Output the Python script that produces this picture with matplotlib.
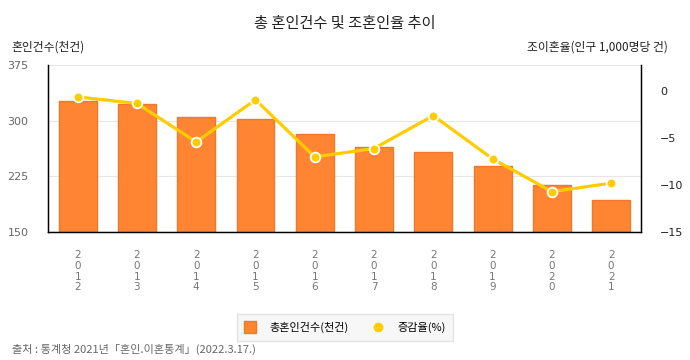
import matplotlib.pyplot as plt
from matplotlib.lines import Line2D

plt.rcParams['font.family'] = ['Noto Sans CJK KR', 'DejaVu Sans']

years = ['2012', '2013', '2014', '2015', '2016', '2017', '2018', '2019', '2020', '2021']
marriages = [327.1, 322.8, 305.5, 302.8, 281.6, 264.5, 257.6, 239.2, 213.5, 192.5]
change_rate = [-0.6, -1.3, -5.4, -0.9, -7.0, -6.1, -2.6, -7.2, -10.7, -9.8]

bar_color = '#FF8533'
bar_edge = '#F0782A'
line_color = '#FFCC00'

fig = plt.figure(figsize=(6.9, 3.6), dpi=100)
ax = fig.add_axes([0.0696, 0.3556, 0.859, 0.4638])
x = list(range(len(years)))

ax.bar(x, marriages, width=0.64, color=bar_color, edgecolor=bar_edge, linewidth=1,
       zorder=2, label='총혼인건수(천건)')
ax.set_ylim(150, 375)
ax.set_yticks([150, 225, 300, 375])
ax.set_xlim(-0.5, len(years) - 0.5)
ax.set_xticks(x)
ax.set_xticklabels(['\n'.join(y) for y in years], fontsize=7.5, color='#777777',
                   linespacing=1.1, family='DejaVu Sans')
ax.grid(axis='y', color='#e6e6e6', linewidth=0.8, zorder=0)
ax.tick_params(axis='y', length=0, pad=14, labelsize=8, labelcolor='#666666')
ax.tick_params(axis='x', length=0, pad=13)
for lab in ax.get_yticklabels():
    lab.set_family('DejaVu Sans')
ax.spines['top'].set_visible(False)
for s in ['left', 'right', 'bottom']:
    ax.spines[s].set_color('black')
    ax.spines[s].set_linewidth(1)

ax2 = ax.twinx()
ax2.plot(x, change_rate, color=line_color, linewidth=2.3, marker='o', markersize=7,
         markerfacecolor=line_color, markeredgecolor='white', markeredgewidth=1.3,
         zorder=3, label='증감율(%)')
ax2.set_ylim(-15, 2.8)
ax2.set_yticks([0, -5, -10, -15])
ax2.tick_params(axis='y', length=0, pad=14, labelsize=8, labelcolor='#222222')
for lab in ax2.get_yticklabels():
    lab.set_family('DejaVu Sans')
ax2.spines['top'].set_visible(False)

fig.text(0.5, 0.935, '총 혼인건수 및 조혼인율 추이', ha='center', va='center', fontsize=11, color='#222222')
fig.text(0.017, 0.868, '혼인건수(천건)', ha='left', va='center', fontsize=8.5, color='#222222')
fig.text(0.968, 0.868, '조이혼율(인구 1,000명당 건)', ha='right', va='center', fontsize=8.5, color='#222222')
fig.text(0.017, 0.03, '출처 : 통계청 2021년「혼인.이혼통계」(2022.3.17.)', ha='left', va='center',
         fontsize=8, color='#666666')

h1, l1 = ax.get_legend_handles_labels()
h2, l2 = ax2.get_legend_handles_labels()
handles = [Line2D([], [], marker='s', linestyle='none', markersize=9, markerfacecolor=bar_color,
                  markeredgecolor=bar_edge),
           Line2D([], [], marker='o', linestyle='none', markersize=6, markerfacecolor=line_color,
                  markeredgecolor=line_color)]
leg = fig.legend(handles, l1 + l2, loc='center', bbox_to_anchor=(0.5, 0.09), ncol=2,
                 fontsize=8, frameon=True, fancybox=False, handlelength=1, handletextpad=1.2,
                 columnspacing=2.2, borderpad=0.7)
leg.get_frame().set_facecolor('#f5f5f5')
leg.get_frame().set_edgecolor('#dddddd')

plt.savefig('out.png', dpi=100)
